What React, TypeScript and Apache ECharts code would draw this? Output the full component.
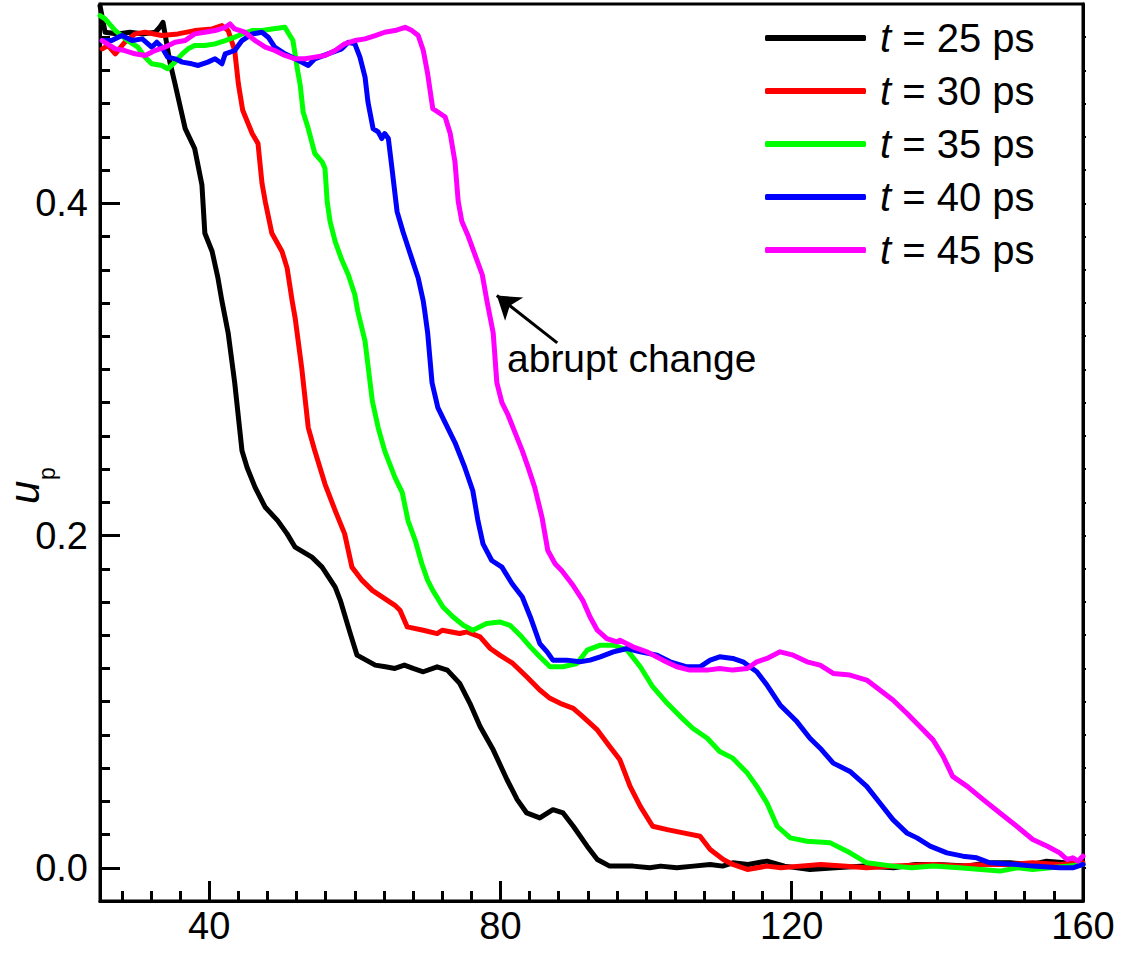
import React, { useEffect, useRef } from "react";
import * as echarts from "echarts";

const FONT = "'Liberation Sans', Arial, Helvetica, sans-serif";

const seriesNames = ["25", "30", "35", "40", "45"];
const seriesColors = ["#000000", "#ff0000", "#00ff00", "#0000ff", "#ff00ff"];

const xMajor = [40, 80, 120, 160];
const xMinor = [28, 32, 36, 44, 48, 52, 56, 60, 64, 68, 72, 76, 84, 88, 92, 96, 100, 104, 108, 112, 116, 124, 128, 132, 136, 140, 144, 148, 152, 156];
const yMajor = [0, 0.2, 0.4];
const yMinor = [0.02, 0.04, 0.06, 0.08, 0.1, 0.12, 0.14, 0.16, 0.18, 0.22, 0.24, 0.26, 0.28, 0.3, 0.32, 0.34, 0.36, 0.38, 0.42, 0.44, 0.46, 0.48, 0.5];
const yRight = [0, 0.02, 0.04, 0.06, 0.08, 0.1, 0.12, 0.14, 0.16, 0.18, 0.2, 0.22, 0.24, 0.26, 0.28, 0.3, 0.32, 0.34, 0.36, 0.38, 0.4, 0.42, 0.44, 0.46, 0.48, 0.5];

const t25: number[][] = [
  [25.0, 0.519], [25.7, 0.503], [27.5, 0.502], [29.1, 0.503], [31.0, 0.502], [32.6, 0.503], [33.2, 0.506], [33.65, 0.509],
  [34.6, 0.485], [35.3, 0.472], [36.7, 0.445], [38.0, 0.433], [39.0, 0.411], [39.4, 0.382], [40.4, 0.371], [41.2, 0.355],
  [41.75, 0.341], [42.6, 0.322], [43.5, 0.292], [44.5, 0.251], [45.2, 0.241], [46.3, 0.229], [47.7, 0.217], [49.4, 0.209],
  [50.7, 0.201], [51.8, 0.193], [54.1, 0.187], [55.5, 0.181], [57.3, 0.169], [58.0, 0.161], [59.3, 0.142], [60.3, 0.128],
  [62.8, 0.122], [64.2, 0.121], [65.5, 0.120], [66.8, 0.122], [68.0, 0.120], [69.4, 0.118], [71.3, 0.121], [72.7, 0.119],
  [74.4, 0.111], [75.8, 0.099], [77.2, 0.085], [79.0, 0.071], [80.9, 0.053], [82.3, 0.041], [83.6, 0.033], [85.4, 0.030],
  [87.2, 0.035], [88.6, 0.033], [90.0, 0.025], [91.9, 0.013], [93.3, 0.005], [95.0, 0.001], [98.2, 0.001], [100.5, 0.0],
  [102.0, 0.001], [104.2, 0.0], [106.5, 0.001], [108.8, 0.002], [110.5, 0.001], [111.9, 0.003], [114.0, 0.002], [116.6, 0.004],
  [119.0, 0.001], [122.5, -0.001], [126.0, 0.0], [130.0, 0.001], [134.0, 0.0], [137.0, 0.002], [140.0, 0.002], [144.0, 0.001],
  [147.0, 0.003], [150.0, 0.003], [153.0, 0.002], [155.0, 0.004], [157.5, 0.003], [160.0, 0.002]
];

const t30: number[][] = [
  [25.3, 0.493], [26.1, 0.495], [27.1, 0.490], [28.4, 0.497], [29.8, 0.502], [31.2, 0.503], [33.5, 0.501], [35.7, 0.502],
  [38.0, 0.504], [40.4, 0.505], [41.75, 0.507], [42.6, 0.504], [43.5, 0.492], [44.0, 0.472], [44.6, 0.456], [45.9, 0.442],
  [46.7, 0.436], [47.25, 0.412], [47.7, 0.401], [48.6, 0.382], [50.0, 0.371], [50.7, 0.361], [51.4, 0.341], [51.8, 0.331],
  [52.7, 0.301], [53.6, 0.265], [54.5, 0.251], [55.9, 0.231], [57.3, 0.215], [58.6, 0.201], [59.6, 0.181], [61.0, 0.173],
  [62.4, 0.167], [64.1, 0.162], [65.5, 0.158], [66.2, 0.155], [67.2, 0.145], [69.4, 0.143], [71.3, 0.141], [72.0, 0.143],
  [74.4, 0.141], [75.4, 0.142], [77.2, 0.139], [78.6, 0.132], [79.9, 0.128], [81.7, 0.123], [83.6, 0.115], [85.4, 0.107],
  [86.8, 0.102], [88.2, 0.099], [90.0, 0.096], [91.3, 0.091], [93.3, 0.083], [95.0, 0.073], [96.4, 0.065], [97.8, 0.049],
  [99.2, 0.037], [100.9, 0.025], [102.9, 0.023], [105.1, 0.021], [107.4, 0.019], [108.8, 0.011], [110.6, 0.005], [111.9, 0.002],
  [113.9, -0.001], [116.6, 0.001], [118.5, 0.0], [121.1, 0.001], [124.0, 0.002], [127.0, 0.001], [130.3, 0.0], [134.0, 0.001],
  [139.4, 0.002], [143.0, 0.001], [147.0, 0.002], [150.0, 0.002], [153.1, 0.003], [156.8, 0.002], [160.0, 0.003]
];

const t35: number[][] = [
  [25.0, 0.513], [25.7, 0.511], [27.1, 0.504], [28.8, 0.498], [30.2, 0.494], [31.2, 0.488], [32.1, 0.484], [33.5, 0.483],
  [34.3, 0.481], [35.3, 0.485], [36.3, 0.490], [37.1, 0.493], [38.0, 0.495], [39.4, 0.495], [40.8, 0.496], [42.2, 0.498],
  [43.5, 0.500], [44.5, 0.502], [45.9, 0.504], [47.25, 0.504], [48.6, 0.505], [50.4, 0.506], [50.8, 0.503], [51.5, 0.498],
  [52.1, 0.481], [52.5, 0.471], [52.9, 0.455], [53.6, 0.445], [54.5, 0.430], [55.5, 0.425], [55.9, 0.421], [56.2, 0.401],
  [56.6, 0.389], [57.3, 0.377], [58.2, 0.366], [59.1, 0.357], [60.0, 0.345], [60.4, 0.335], [61.4, 0.317], [62.4, 0.281],
  [63.2, 0.265], [64.1, 0.251], [65.5, 0.235], [66.5, 0.226], [67.3, 0.209], [68.3, 0.197], [69.2, 0.183], [70.0, 0.173],
  [70.7, 0.167], [72.1, 0.157], [73.5, 0.151], [74.9, 0.146], [76.2, 0.143], [78.1, 0.147], [79.9, 0.148], [81.3, 0.146],
  [82.7, 0.140], [84.1, 0.133], [85.4, 0.127], [86.8, 0.121], [88.6, 0.121], [90.5, 0.123], [91.9, 0.131], [93.7, 0.134],
  [95.5, 0.134], [97.4, 0.131], [99.2, 0.121], [100.9, 0.109], [102.9, 0.099], [104.7, 0.091], [106.4, 0.084], [108.4, 0.078],
  [110.1, 0.070], [111.9, 0.066], [113.9, 0.057], [115.2, 0.049], [116.6, 0.039], [118.0, 0.025], [119.8, 0.018], [122.1, 0.016],
  [125.3, 0.015], [128.0, 0.009], [130.3, 0.003], [133.9, 0.001], [136.5, 0.0], [139.4, 0.001], [143.0, 0.0], [146.0, -0.001],
  [148.6, -0.002], [151.0, 0.0], [153.1, -0.001], [155.5, 0.0], [157.8, 0.001], [160.0, 0.002]
];

const t40: number[][] = [
  [25.3, 0.498], [26.6, 0.498], [28.0, 0.501], [29.4, 0.498], [30.8, 0.499], [32.1, 0.494], [32.8, 0.497], [33.5, 0.494],
  [34.3, 0.488], [35.3, 0.487], [36.3, 0.485], [37.6, 0.484], [38.5, 0.483], [39.8, 0.485], [40.8, 0.487], [41.75, 0.484],
  [42.2, 0.490], [43.5, 0.492], [44.5, 0.498], [45.9, 0.502], [47.25, 0.503], [48.1, 0.500], [49.0, 0.494], [50.4, 0.490],
  [51.8, 0.487], [53.6, 0.483], [54.5, 0.487], [56.3, 0.490], [58.2, 0.493], [59.1, 0.497], [60.0, 0.496], [60.7, 0.488],
  [61.4, 0.476], [61.8, 0.461], [62.5, 0.445], [63.2, 0.443], [63.7, 0.439], [64.1, 0.442], [64.6, 0.439], [65.1, 0.421],
  [65.8, 0.395], [66.6, 0.383], [67.8, 0.367], [68.7, 0.355], [69.4, 0.341], [69.6, 0.335], [70.0, 0.322], [70.6, 0.292],
  [71.4, 0.277], [72.4, 0.268], [73.75, 0.256], [75.1, 0.241], [76.2, 0.227], [76.9, 0.209], [77.6, 0.195], [78.8, 0.185],
  [80.2, 0.181], [81.6, 0.171], [83.0, 0.163], [84.1, 0.151], [85.4, 0.135], [86.4, 0.130], [87.2, 0.125], [89.1, 0.125],
  [90.9, 0.124], [92.3, 0.125], [93.7, 0.127], [95.5, 0.130], [97.4, 0.132], [99.2, 0.130], [101.5, 0.128], [103.3, 0.124],
  [105.6, 0.121], [107.4, 0.121], [108.8, 0.125], [110.1, 0.127], [111.9, 0.126], [113.3, 0.124], [115.2, 0.118], [116.6, 0.110],
  [118.4, 0.098], [120.7, 0.088], [122.5, 0.078], [123.9, 0.072], [125.7, 0.063], [128.0, 0.058], [130.3, 0.049], [132.1, 0.039],
  [133.9, 0.029], [135.8, 0.021], [137.2, 0.018], [139.0, 0.013], [141.3, 0.009], [143.5, 0.007], [145.4, 0.006], [147.2, 0.003],
  [150.9, 0.002], [153.1, 0.001], [156.8, 0.0], [158.6, 0.0], [160.0, 0.002]
];

const t45: number[][] = [
  [25.3, 0.498], [27.1, 0.493], [28.4, 0.492], [29.8, 0.490], [31.2, 0.489], [32.55, 0.492], [33.9, 0.494], [35.3, 0.497],
  [36.7, 0.498], [38.0, 0.502], [39.4, 0.503], [40.8, 0.504], [42.2, 0.506], [42.85, 0.508], [43.5, 0.505], [44.9, 0.503],
  [46.3, 0.498], [47.7, 0.494], [49.0, 0.492], [50.4, 0.489], [51.8, 0.487], [53.15, 0.487], [54.5, 0.488], [55.9, 0.489],
  [57.3, 0.492], [58.6, 0.496], [60.0, 0.498], [61.4, 0.499], [62.8, 0.501], [64.1, 0.503], [65.5, 0.504], [66.9, 0.506],
  [67.85, 0.504], [68.7, 0.501], [69.4, 0.492], [70.0, 0.478], [70.7, 0.457], [71.4, 0.455], [72.4, 0.452], [73.1, 0.442],
  [73.75, 0.425], [74.2, 0.401], [74.7, 0.389], [75.5, 0.381], [76.5, 0.369], [77.5, 0.357], [78.15, 0.341], [79.0, 0.322],
  [79.5, 0.292], [80.2, 0.280], [81.0, 0.273], [82.0, 0.262], [83.0, 0.251], [83.8, 0.241], [84.7, 0.229], [85.7, 0.211],
  [86.5, 0.191], [87.5, 0.183], [88.4, 0.179], [89.8, 0.171], [91.3, 0.161], [92.3, 0.151], [93.3, 0.143], [94.6, 0.138],
  [96.0, 0.136], [96.4, 0.137], [98.2, 0.133], [100.1, 0.130], [102.3, 0.125], [104.2, 0.121], [106.0, 0.119], [108.4, 0.119],
  [110.1, 0.120], [111.9, 0.119], [113.9, 0.120], [115.2, 0.124], [116.6, 0.126], [118.4, 0.130], [120.2, 0.128], [122.1, 0.124],
  [123.9, 0.122], [125.7, 0.117], [128.0, 0.116], [130.3, 0.113], [132.1, 0.107], [133.9, 0.101], [135.8, 0.093], [137.6, 0.085],
  [139.4, 0.077], [140.8, 0.067], [142.1, 0.055], [144.1, 0.049], [146.3, 0.041], [148.6, 0.033], [150.9, 0.025], [153.1, 0.017],
  [155.1, 0.013], [156.8, 0.009], [157.8, 0.005], [158.6, 0.006], [159.3, 0.004], [160.0, 0.007]
];

const allData = [t25, t30, t35, t40, t45];

const arrowFrom = [87.8, 0.316];
const arrowTo = [79.5, 0.3445];

export default function App() {
  const ref = useRef<HTMLDivElement>(null);
  useEffect(() => {
    document.body.style.margin = "0";
    const chart = echarts.init(ref.current!, null, { renderer: "svg" });
    const axisCommon = {
      type: "value" as const,
      min: 25,
      max: 160,
      splitLine: { show: false },
    };
    const yCommon = {
      type: "value" as const,
      min: -0.02,
      max: 0.52,
      splitLine: { show: false },
    };
    const series: any[] = allData.map((d, i) => ({
      type: "line",
      name: `t = ${seriesNames[i]} ps`,
      data: d,
      xAxisIndex: 0,
      yAxisIndex: 0,
      showSymbol: false,
      symbol: "none",
      color: seriesColors[i],
      lineStyle: { color: seriesColors[i], width: 5, join: "round", cap: "round" },
      z: 3 + i,
    }));
    series[4].markLine = {
      silent: true,
      symbol: ["none", "arrow"],
      symbolSize: 22,
      animation: false,
      label: { show: false },
      lineStyle: { color: "#000", width: 3, type: "solid" },
      data: [[{ coord: arrowFrom }, { coord: arrowTo }]],
    };
    const option: any = {
      animation: false,
      backgroundColor: "#fff",
      grid: {
        left: 100,
        right: 42,
        top: 4,
        bottom: 52,
        show: true,
        borderColor: "#000",
        borderWidth: 3,
        backgroundColor: "transparent",
      },
      legend: {
        orient: "vertical",
        left: 765,
        top: 16,
        padding: 0,
        itemWidth: 101,
        itemHeight: 6,
        itemGap: 9,
        icon: "roundRect",
        selectedMode: false,
        data: seriesNames.map((n) => `t = ${n} ps`),
        formatter: (name: string) => `{i|t} = ${name.replace("t = ", "")}`,
        textStyle: {
          fontFamily: FONT,
          fontSize: 40,
          color: "#000",
          lineHeight: 44,
          padding: [0, 0, 0, 9],
          rich: {
            i: { fontFamily: FONT, fontSize: 40, fontStyle: "italic", color: "#000", lineHeight: 44 },
          },
        },
      },
      xAxis: [
        {
          ...axisCommon,
          position: "bottom",
          axisLine: { show: true, onZero: false, lineStyle: { color: "#000", width: 3 } },
          axisTick: { show: true, inside: true, length: 20, customValues: xMajor, lineStyle: { color: "#000", width: 3 } },
          axisLabel: { show: true, customValues: xMajor, fontFamily: FONT, fontSize: 38, color: "#000", margin: 6 },
        },
        {
          ...axisCommon,
          position: "bottom",
          axisLine: { show: false, onZero: false },
          axisTick: { show: true, inside: true, length: 10, customValues: xMinor, lineStyle: { color: "#000", width: 3 } },
          axisLabel: { show: false },
        },
      ],
      yAxis: [
        {
          ...yCommon,
          position: "left",
          axisLine: { show: true, onZero: false, lineStyle: { color: "#000", width: 3 } },
          axisTick: { show: true, inside: true, length: 20, customValues: yMajor, lineStyle: { color: "#000", width: 3 } },
          axisLabel: {
            show: true,
            customValues: yMajor,
            fontFamily: FONT,
            fontSize: 38,
            color: "#000",
            margin: 12,
            formatter: (v: number) => v.toFixed(1),
          },
        },
        {
          ...yCommon,
          position: "left",
          offset: 0,
          axisLine: { show: false, onZero: false },
          axisTick: { show: true, inside: true, length: 10, customValues: yMinor, lineStyle: { color: "#000", width: 3 } },
          axisLabel: { show: false },
        },
        {
          ...yCommon,
          position: "right",
          offset: 0,
          axisLine: { show: true, onZero: false, lineStyle: { color: "#000", width: 3 } },
          axisTick: { show: true, inside: false, length: 3, customValues: yRight, lineStyle: { color: "#000", width: 2 } },
          axisLabel: { show: false },
        },
      ],
      graphic: [
        {
          type: "group",
          x: 24,
          y: 504,
          rotation: Math.PI / 2,
          children: [
            {
              type: "text",
              x: 0,
              y: 0,
              style: {
                text: "u",
                font: `italic 42px ${FONT}`,
                lineHeight: 28,
                fill: "#000",
                textAlign: "left",
                textVerticalAlign: "middle",
              },
            },
            {
              type: "text",
              x: 24,
              y: 23,
              style: {
                text: "p",
                font: `23px ${FONT}`,
                lineHeight: 18,
                fill: "#000",
                textAlign: "left",
                textVerticalAlign: "middle",
              },
            },
          ],
        },
        {
          type: "text",
          x: 507,
          y: 358,
          style: {
            text: "abrupt change",
            font: `39px ${FONT}`,
            fill: "#000",
            textAlign: "left",
            textVerticalAlign: "middle",
          },
        },
      ],
      series,
    };
    chart.setOption(option);
    return () => chart.dispose();
  }, []);
  return <div ref={ref} style={{ position: "absolute", left: 0, top: 0, width: 1125, height: 953 }} />;
}
